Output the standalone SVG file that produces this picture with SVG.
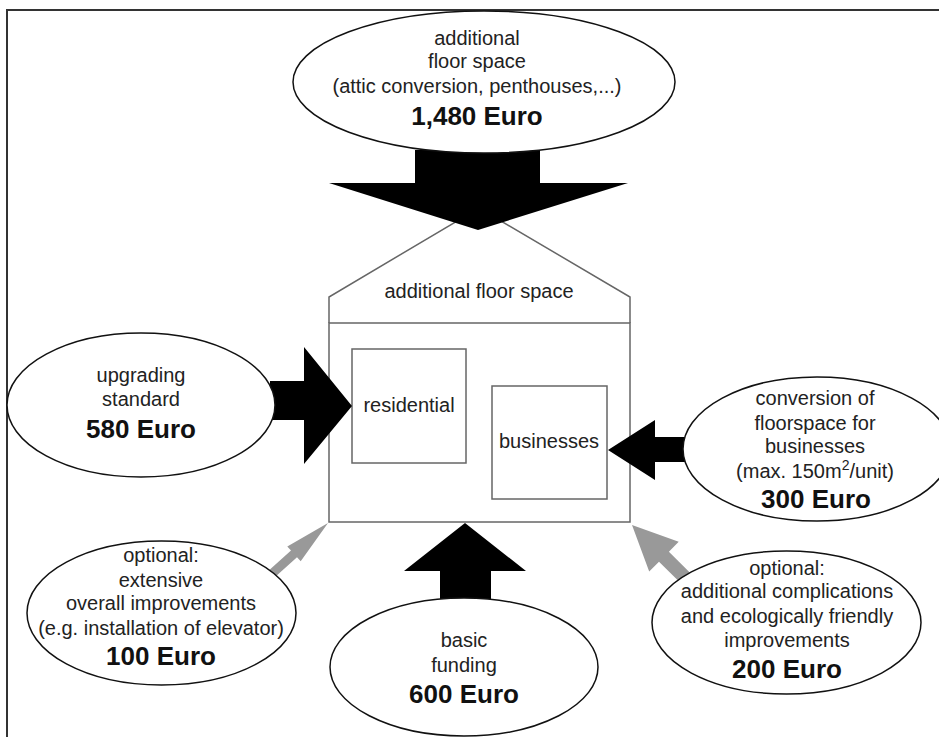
<svg xmlns="http://www.w3.org/2000/svg" width="939" height="737" viewBox="0 0 939 737">
<style>
.frame{fill:none;stroke:#333;stroke-width:2}
.ell{fill:#fff;stroke:#111;stroke-width:1.5}
.house{fill:#fff;stroke:#666;stroke-width:1.5}
.blk{fill:#000}
.gry{fill:#999}
text{font-family:"Liberation Sans",Arial,sans-serif;text-anchor:middle;fill:#222}
.r{font-size:20px}
.b{font-size:26px;font-weight:bold;fill:#111}
</style>
<rect width="939" height="737" fill="#fff"/>
<path class="frame" d="M7,737 V10 H939"/>

<g id="house">
<path class="house" d="M329,323 V297 L479,208 L630,297 V323"/>
<rect class="house" x="329" y="323" width="301" height="199"/>
<text class="r" x="479" y="298">additional floor space</text>
</g>
<g id="residential">
<rect class="house" x="352" y="349" width="114" height="114"/>
<text class="r" x="409" y="412">residential</text>
</g>
<g id="businesses">
<rect class="house" x="492" y="386" width="115" height="113"/>
<text class="r" x="549" y="448">businesses</text>
</g>

<g id="connectors">
<polygon class="blk" points="415,150 540,150 540,183 628,183 478,230 329,183 415,183"/>
<polygon class="blk" points="270,381 304,381 304,347 352,406 304,464 304,420 270,420"/>
<polygon class="blk" points="608,450 655,420 655,437 695,437 695,462 655,462 655,480"/>
<polygon class="blk" points="465,523 526,571 491,571 491,608 440,608 440,571 404,571"/>
<polygon class="gry" points="328,523 300.7,561.2 297,557.2 268.1,583.3 262.1,576.6 291,550.5 287.3,546.4"/>
<polygon class="gry" points="632,525 649.2,571.6 659,561.7 687.4,589.8 697.3,579.9 668.9,551.7 678.7,541.8"/>
</g>

<g id="top">
<ellipse class="ell" cx="484" cy="82" rx="191" ry="71"/>
<text class="r" x="477" y="45">additional</text>
<text class="r" x="477" y="68">floor space</text>
<text class="r" x="477" y="93">(attic conversion, penthouses,...)</text>
<text class="b" x="477" y="125">1,480 Euro</text>
</g>
<g id="upgrading">
<ellipse class="ell" cx="141" cy="405" rx="134" ry="72"/>
<text class="r" x="141" y="382">upgrading</text>
<text class="r" x="141" y="406">standard</text>
<text class="b" x="141" y="438">580 Euro</text>
</g>
<g id="conversion">
<ellipse class="ell" cx="817" cy="449" rx="134" ry="72"/>
<text class="r" x="815" y="405">conversion of</text>
<text class="r" x="815" y="430">floorspace for</text>
<text class="r" x="815" y="453">businesses</text>
<text class="r" x="815" y="478">(max. 150m<tspan font-size="14" dy="-8">2</tspan><tspan dy="8">/unit)</tspan></text>
<text class="b" x="816" y="508">300 Euro</text>
</g>
<g id="optional-left">
<ellipse class="ell" cx="161.5" cy="613" rx="134.5" ry="72"/>
<text class="r" x="161" y="562">optional:</text>
<text class="r" x="161" y="587">extensive</text>
<text class="r" x="161" y="610">overall improvements</text>
<text class="r" x="161" y="635">(e.g. installation of elevator)</text>
<text class="b" x="161" y="665">100 Euro</text>
</g>
<g id="basic">
<ellipse class="ell" cx="464" cy="667" rx="134" ry="69"/>
<text class="r" x="464" y="647">basic</text>
<text class="r" x="464" y="672">funding</text>
<text class="b" x="464" y="703">600 Euro</text>
</g>
<g id="optional-right">
<ellipse class="ell" cx="786.5" cy="622.5" rx="134.5" ry="71.5"/>
<text class="r" x="787" y="575">optional:</text>
<text class="r" x="787" y="598">additional complications</text>
<text class="r" x="787" y="623">and ecologically friendly</text>
<text class="r" x="787" y="647">improvements</text>
<text class="b" x="787" y="678">200 Euro</text>
</g>
</svg>
